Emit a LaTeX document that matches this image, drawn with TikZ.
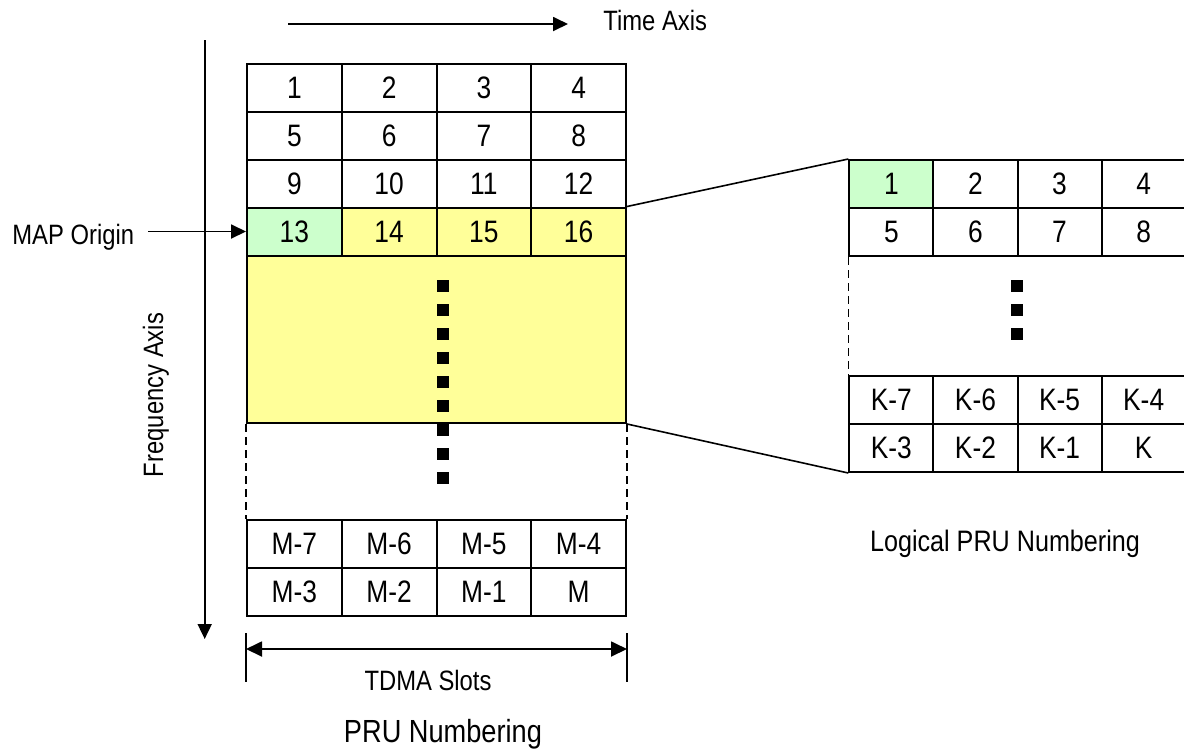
\documentclass[tikz,border=0pt]{standalone}
\usepackage{fontspec}
\setmainfont{Liberation Sans}[FakeStretch=0.85]
\usetikzlibrary{arrows.meta}
\definecolor{origingreen}{RGB}{204,255,204}
\definecolor{burstyellow}{RGB}{255,255,153}

\begin{document}
\begin{tikzpicture}[
  x=0.5pt, y=-0.5pt,
  font=\fontsize{14}{16}\selectfont,
  cell/.style={draw, line width=1pt, minimum width=47.375pt, minimum height=24pt, inner sep=0pt, font=\fontsize{15.5}{17}\selectfont},
  lcell/.style={cell, minimum width=42.05pt},
  lbl/.style={inner sep=0pt},
  dotsq/.style={fill=black, minimum size=6pt, inner sep=0pt},
  axis/.style={line width=0.9pt, -{Triangle[length=7.5pt, width=7pt]}},
  span/.style={line width=0.9pt, {Triangle[length=8pt, width=7.5pt]}-{Triangle[length=8pt, width=7.5pt]}},
  gap/.style={line width=0.8pt, dash pattern=on 4pt off 2.5pt},
  zoomline/.style={line width=0.8pt}
]
\useasboundingbox (0,0) rectangle (1184,751);

% physical PRU grid
\foreach \r in {0,1,2}
  \foreach \c in {1,...,4} {
    \pgfmathtruncatemacro\n{4*\r+\c}
    \node[cell] (a\n) at (247+94.75*\c-47.375, 87.5+48*\r) {\n};
  }
\node[cell, fill=origingreen] (a13) at (294.4,231.5) {13};
\foreach \n/\c in {14/2, 15/3, 16/4}
  \node[cell, fill=burstyellow] (a\n) at (247+94.75*\c-47.375, 231.5) {\n};
\node[draw, line width=1pt, fill=burstyellow, minimum width=189.5pt, minimum height=83.75pt, inner sep=0pt] (burst) at (436.5,339.25) {};

\foreach \t/\c in {M-7/1, M-6/2, M-5/3, M-4/4}
  \node[cell] (m\c) at (247+94.75*\c-47.375, 544) {\t};
\foreach \t/\c in {M-3/1, M-2/2, M-1/3, M/4}
  \node[cell] (mb\c) at (247+94.75*\c-47.375, 592) {\t};
\draw[gap] (burst.south west) -- (m1.north west);
\draw[gap] (burst.south east) -- (m4.north east);
\foreach \k in {0,...,8}
  \node[dotsq] (ld\k) at (443, 286+24*\k) {};

% logical PRU grid
\node[lcell, fill=origingreen] (k1) at (891.4,184) {1};
\foreach \t/\c in {2/2, 3/3, 4/4}
  \node[lcell] (k\c) at (849.3+84.1*\c-42.05, 184) {\t};
\foreach \t/\c in {5/1, 6/2, 7/3, 8/4}
  \node[lcell] (kb\c) at (849.3+84.1*\c-42.05, 232) {\t};
\foreach \t/\c in {K-7/1, K-6/2, K-5/3, K-4/4}
  \node[lcell] (km\c) at (849.3+84.1*\c-42.05, 400) {\t};
\foreach \t/\c in {K-3/1, K-2/2, K-1/3, K/4}
  \node[lcell] (kn\c) at (849.3+84.1*\c-42.05, 448) {\t};
\draw[gap] (kb1.south west) -- (km1.north west);
\draw[gap] (kb4.south east) -- (km4.north east);
\foreach \k in {0,1,2}
  \node[dotsq] (rd\k) at (1017.3, 286+24*\k) {};

\draw[zoomline] (a16.north east) -- (k1.north west);
\draw[zoomline] (burst.south east) -- (kn1.south west);

% axes and labels
\coordinate (t0) at (288,24);
\coordinate (t1) at (568,24);
\draw[axis] (t0) -- (t1);
\node[lbl, anchor=base west] (timelbl) at (603,30) {Time Axis};

\coordinate (f0) at (204.7,40);
\coordinate (f1) at (204.7,639);
\draw[axis] (f0) -- (f1);
\node[lbl, rotate=90, anchor=base] (freqlbl) at (163,395) {Frequency Axis};

\node[lbl, anchor=base west] (maplbl) at (12,244) {MAP Origin};
\coordinate (mapfrom) at (148,231.5);
\draw[axis] (mapfrom) -- (a13.west);

\draw[line width=0.9pt] ([yshift=-8pt]mb1.south west) -- ++(0,49);
\draw[line width=0.9pt] ([yshift=-8pt]mb4.south east) -- ++(0,49);
\draw[span] ([yshift=-16pt]mb1.south west) -- ([yshift=-16pt]mb4.south east);
\node[lbl, anchor=base] (tdmalbl) at (428,690) {TDMA Slots};
\node[lbl, anchor=base, font=\fontsize{16}{18}\selectfont] (prulbl) at (443,742) {PRU Numbering};
\node[lbl, anchor=base, font=\fontsize{14.8}{17}\selectfont] (lprulbl) at (1005,551.7) {Logical PRU Numbering};
\end{tikzpicture}
\end{document}
